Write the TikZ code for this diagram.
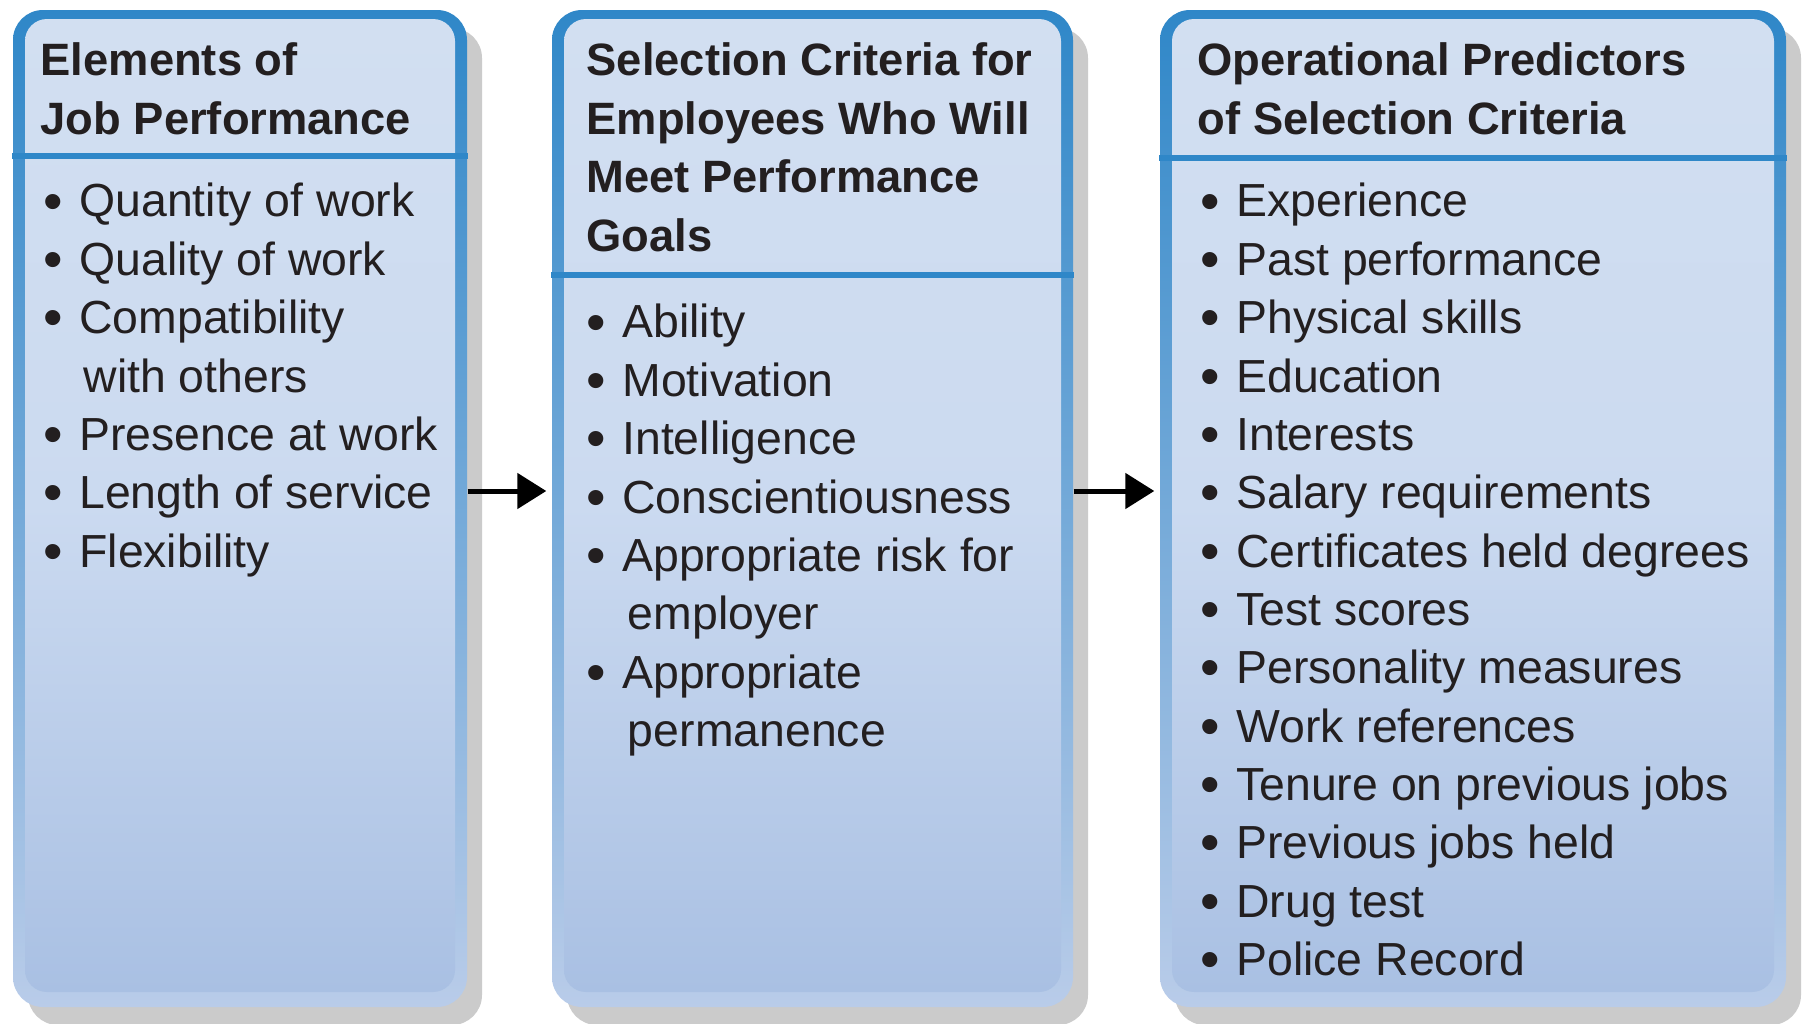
\documentclass[tikz,border=0pt]{standalone}
\usepackage{graphicx}
\usepackage{fontspec}
\setmainfont{Liberation Sans}
\usetikzlibrary{
  shapes,
  shadows,
  positioning,
  arrows.meta
}

\definecolor{rimtop}{HTML}{2F87C8}
\definecolor{rimbot}{HTML}{B9CCE9}
\definecolor{paneltop}{HTML}{D2DFF1}
\definecolor{panelmid}{HTML}{CBDAF0}
\definecolor{panelbot}{HTML}{A9C0E3}
\definecolor{shadowgray}{HTML}{CBCBCB}
\definecolor{inktext}{HTML}{231F20}

\newcommand{\itemfont}{\fontsize{13.2}{16.6}\selectfont}
\newcommand{\headfont}{\fontsize{12.9}{16.6}\selectfont\bfseries}
\newcommand{\bul}{\raisebox{-0.9pt}{\scalebox{1.2}{\textbullet}}}

\tikzset{
  frame/.style={rectangle, rounded corners=3mm, draw=none,
    top color=rimtop, bottom color=rimbot,
    drop shadow={shadow xshift=1.5mm, shadow yshift=-1.8mm, fill=shadowgray, opacity=1}},
  panel/.style={rectangle, rounded corners=2.2mm, draw=none,
    top color=paneltop, bottom color=panelbot, middle color=panelmid},
  head/.style={anchor=base west, inner sep=0pt, font=\headfont, text=inktext},
  items/.style={anchor=base west, inner sep=0pt, font=\itemfont, text=inktext},
  divider/.style={line width=0.6mm, draw=rimtop},
  conn/.style={-{Triangle[length=2.9mm,width=3.5mm]}, line width=0.5mm, black, shorten >=0.5mm}
}

\begin{document}
\begin{tikzpicture}[x=0.1mm, y=-0.1mm]
    \fill[white] (0,0) rectangle (1802,1024);
    \useasboundingbox (0,0) rectangle (1802,1024);

    % the three boxes
    \node[frame, minimum width=45.4mm, minimum height=99.7mm] (b1) at (240,508.5) {};
    \node[panel, minimum width=43mm, minimum height=97.3mm] (p1) at (240,505.5) {};
    \node[frame, minimum width=52.1mm, minimum height=99.7mm] (b2) at (812.5,508.5) {};
    \node[panel, minimum width=49.7mm, minimum height=97.3mm] (p2) at (812.5,505.5) {};
    \node[frame, minimum width=62.6mm, minimum height=99.7mm] (b3) at (1473,508.5) {};
    \node[panel, minimum width=60.2mm, minimum height=97.3mm] (p3) at (1473,505.5) {};

    \draw[divider] (b1.west |- 0,156) -- (b1.east |- 0,156);
    \draw[divider] (b2.west |- 0,275) -- (b2.east |- 0,275);
    \draw[divider] (b3.west |- 0,158) -- (b3.east |- 0,158);

    % headings
    \node[head] (t1) at (40,76) {\begin{tabular}[t]{@{}l@{}}
      Elements of\\
      Job Performance
    \end{tabular}};
    \node[head] (t2) at (586,76) {\begin{tabular}[t]{@{}l@{}}
      Selection Criteria for\\
      Employees Who Will\\
      Meet Performance\\
      Goals
    \end{tabular}};
    \node[head] (t3) at (1197,76) {\begin{tabular}[t]{@{}l@{}}
      Operational Predictors\\
      of Selection Criteria
    \end{tabular}};

    % bullet lists
    \node[items] (l1) at (43,217) {\begin{tabular}[t]{@{}l@{\hspace{4.6pt}}l@{}}
      \bul & Quantity of work\\
      \bul & Quality of work\\
      \bul & Compatibility\\
           & \hspace{1.2pt}with others\\
      \bul & Presence at work\\
      \bul & Length of service\\
      \bul & Flexibility
    \end{tabular}};
    \node[items] (l2) at (586,338) {\begin{tabular}[t]{@{}l@{\hspace{4.6pt}}l@{}}
      \bul & Ability\\
      \bul & Motivation\\
      \bul & Intelligence\\
      \bul & Conscientiousness\\
      \bul & Appropriate risk for\\
           & \hspace{1.6pt}employer\\
      \bul & Appropriate\\
           & \hspace{1.6pt}permanence
    \end{tabular}};
    \node[items] (l3) at (1200,217) {\begin{tabular}[t]{@{}l@{\hspace{4.6pt}}l@{}}
      \bul & Experience\\
      \bul & Past performance\\
      \bul & Physical skills\\
      \bul & Education\\
      \bul & Interests\\
      \bul & Salary requirements\\
      \bul & Certificates held degrees\\
      \bul & Test scores\\
      \bul & Personality measures\\
      \bul & Work references\\
      \bul & Tenure on previous jobs\\
      \bul & Previous jobs held\\
      \bul & Drug test\\
      \bul & Police Record
    \end{tabular}};

    \draw[conn] ([yshift=1.75mm]b1.east) -- ([yshift=1.75mm]b2.west);
    \draw[conn] ([yshift=1.75mm]b2.east) -- ([yshift=1.75mm]b3.west);
\end{tikzpicture}
\end{document}
